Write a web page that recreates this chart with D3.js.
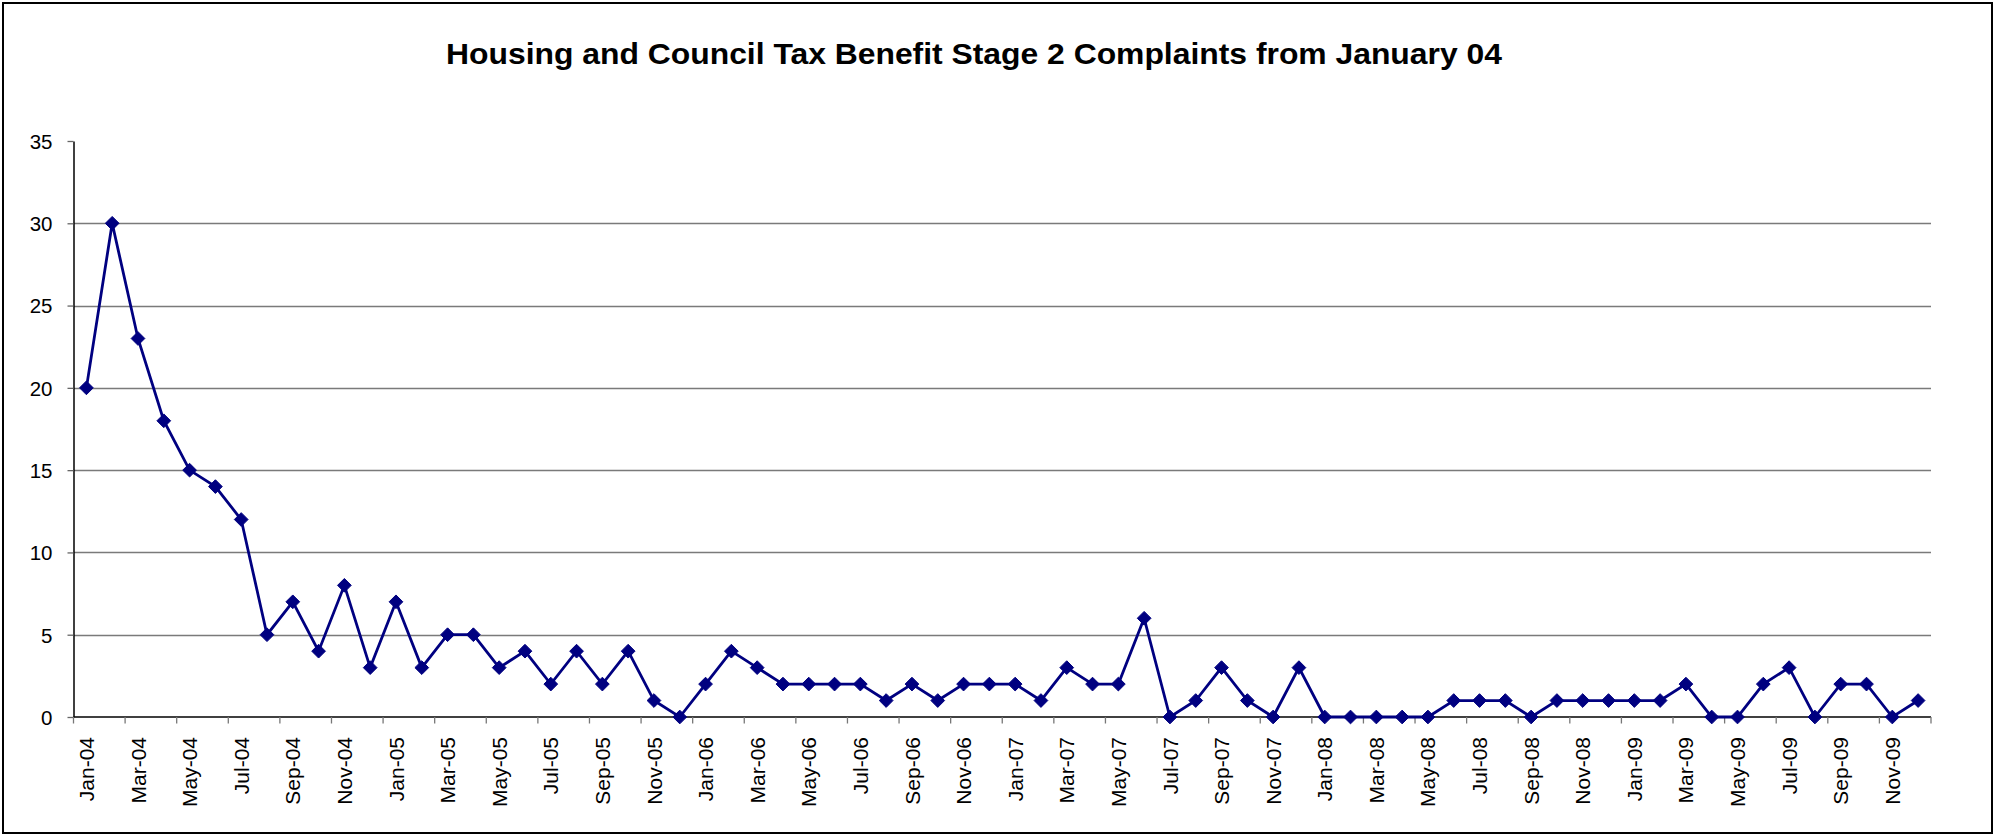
<!DOCTYPE html>
<html><head><meta charset="utf-8">
<script src="https://cdn.jsdelivr.net/npm/d3@7"></script>
<style>
html,body{margin:0;padding:0;background:#fff;}
svg{display:block;font-family:"Liberation Sans",Arial,sans-serif;}
</style></head>
<body>
<svg id="chart" width="1995" height="836"></svg>
<script>
const title = "Housing and Council Tax Benefit Stage 2 Complaints from January 04";
const years = ["04","05","06","07","08","09"];
const months = ["Jan","Feb","Mar","Apr","May","Jun","Jul","Aug","Sep","Oct","Nov","Dec"];
const categories = years.flatMap(y => months.map(m => m + "-" + y));
const complaints = [
  20,30,23,18,15,14,12,5,7,4,8,3,
  7,3,5,5,3,4,2,4,2,4,1,0,
  2,4,3,2,2,2,2,1,2,1,2,2,
  2,1,3,2,2,6,0,1,3,1,0,3,
  0,0,0,0,0,1,1,1,0,1,1,1,
  1,1,2,0,0,2,3,0,2,2,0,1
];
const yTicks = [0,5,10,15,20,25,30,35];

(function(){
const W = 1995, H = 836;
const mLeft = 73.5, mRight = 1931, mTop = 141, mBottom = 717;
const svg = d3.select("#chart");

svg.append("rect").attr("x",3).attr("y",3).attr("width",W-6).attr("height",H-6)
  .attr("fill","#fff").attr("stroke","#000").attr("stroke-width",2);

svg.append("text").attr("transform","translate(974,64) scale(1.08,1)").attr("text-anchor","middle")
  .attr("font-weight","bold").attr("font-size",29.5).attr("fill","#000").text(title);

const x = d3.scaleBand().domain(categories).range([mLeft,mRight]).paddingInner(0).paddingOuter(0);
const y = d3.scaleLinear().domain([0,35]).range([mBottom,mTop]);

// gridlines
svg.append("g").selectAll("line").data(yTicks.filter(t => t>0 && t<35)).join("line")
  .attr("x1",mLeft).attr("x2",mRight).attr("y1",d=>Math.round(y(d))+0.5).attr("y2",d=>Math.round(y(d))+0.5)
  .attr("stroke","#7a7a7a").attr("stroke-width",1.3);

// y axis
const yAxis = d3.axisLeft(y).tickValues(yTicks).tickSize(6).tickPadding(15).tickSizeOuter(0);
const gy = svg.append("g").attr("transform",`translate(${mLeft},0)`).call(yAxis);
gy.select(".domain").attr("stroke","#000").attr("stroke-width",1.5);
gy.selectAll(".tick line").attr("stroke","#666").attr("stroke-width",1.3);
gy.selectAll("text").attr("font-size",20.5).attr("fill","#000").attr("dy","0.36em")
  .style("font-family","Liberation Sans, Arial, sans-serif");

// x axis: ticks at category boundaries every 2 months, labels every 2 months
const gx = svg.append("g").attr("transform",`translate(0,${mBottom})`);
gx.append("line").attr("x1",mLeft).attr("x2",mRight).attr("stroke","#000").attr("stroke-width",1.5);
const boundaries = categories.map((c,i)=>i).filter(i=>i%2===0).map(i=>x(categories[i])).concat([mRight]);
gx.selectAll("line.tk").data(boundaries).join("line").attr("class","tk")
  .attr("x1",d=>d).attr("x2",d=>d).attr("y1",0).attr("y2",6.5).attr("stroke","#777").attr("stroke-width",1.3);
gx.selectAll("text").data(categories.filter((c,i)=>i%2===0)).join("text")
  .attr("transform",d=>`translate(${x(d)+x.bandwidth()/2},20) rotate(-90)`)
  .attr("text-anchor","end").attr("dy","0.36em").attr("font-size",21).attr("fill","#000").text(d=>d);

// line
const cx = d => x(d) + x.bandwidth()/2;
const line = d3.line().x((d,i)=>cx(categories[i])).y(d=>y(d));
svg.append("path").datum(complaints).attr("d",line).attr("fill","none")
  .attr("stroke","#000080").attr("stroke-width",2.8).attr("stroke-linejoin","miter");

// markers
const diamond = d3.symbol().type(d3.symbolDiamond2).size(120);
svg.append("g").selectAll("path").data(complaints).join("path")
  .attr("transform",(d,i)=>`translate(${cx(categories[i])},${y(d)})`)
  .attr("d",diamond).attr("fill","#000080").attr("stroke","#000080").attr("stroke-width",1);
})();
</script>
</body></html>
